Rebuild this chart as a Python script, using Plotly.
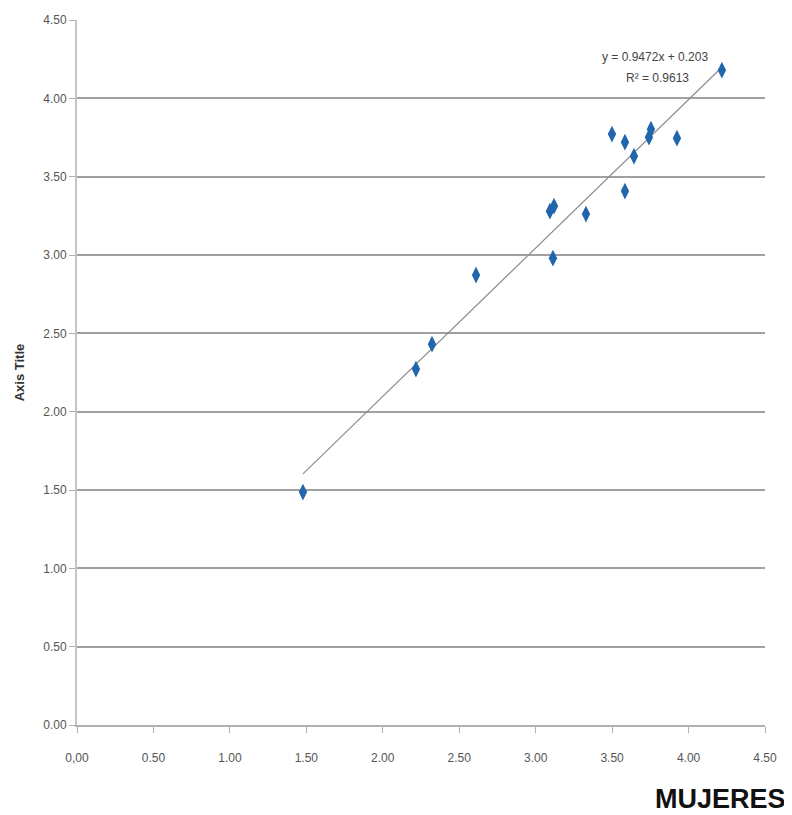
import plotly.graph_objects as go
import numpy as np

x_vals = [1.478, 2.217, 2.322, 2.610, 3.093, 3.120, 3.113, 3.329, 3.499, 3.584, 3.584, 3.643, 3.741, 3.754, 3.924, 4.218]
y_vals = [1.487, 2.272, 2.431, 2.872, 3.280, 3.312, 2.980, 3.261, 3.772, 3.720, 3.408, 3.631, 3.752, 3.803, 3.746, 4.180]
slope = 0.9472
intercept = 0.203
r2 = 0.9613
tick_vals = [0, 0.5, 1, 1.5, 2, 2.5, 3, 3.5, 4, 4.5]
tick_text = ["0,00", "0.50", "1.00", "1.50", "2.00", "2.50", "3.00", "3.50", "4.00", "4.50"]
ytick_text = ["0.00", "0.50", "1.00", "1.50", "2.00", "2.50", "3.00", "3.50", "4.00", "4.50"]

font_tick = "Liberation Sans, Arial, sans-serif"

tx = np.array([min(x_vals), max(x_vals)])
ty = slope * tx + intercept

fig = go.Figure()
fig.add_trace(go.Scatter(x=tx, y=ty, mode="lines",
                         line=dict(color="#8c8c8c", width=1.2), hoverinfo="skip"))
fig.add_trace(go.Scatter(x=x_vals, y=y_vals, mode="markers",
                         marker=dict(symbol="diamond-tall", size=12, color="#2166ac",
                                     line=dict(width=0))))

fig.add_annotation(x=3.78, y=4.263, xref="x", yref="y",
                   text=f"y = {slope}x + {intercept}",
                   showarrow=False, align="center",
                   font=dict(family=font_tick, size=12, color="#444"))
fig.add_annotation(x=3.8, y=4.129, xref="x", yref="y",
                   text=f"R² = {r2}",
                   showarrow=False, align="center",
                   font=dict(family=font_tick, size=12, color="#444"))
fig.add_annotation(x=1.0, y=0, xref="paper", yref="paper", xanchor="right", yanchor="middle",
                   yshift=-74, xshift=23,
                   text="<b>MUJERES</b>", showarrow=False,
                   font=dict(family="Liberation Sans, Arial, sans-serif", size=27, color="#111"))

fig.update_layout(
    width=784, height=807,
    margin=dict(l=69, r=27, t=12, b=90),
    plot_bgcolor="white", paper_bgcolor="white",
    showlegend=False,
    xaxis=dict(range=[0, 4.5], tickvals=tick_vals, ticktext=tick_text, automargin=False,
               showgrid=False, zeroline=False, showline=True, linecolor="#b0b0b0", linewidth=2,
               ticks="outside", ticklen=6, tickcolor="#b0b0b0", tickwidth=1,
               ticklabelstandoff=15,
               tickfont=dict(family=font_tick, size=12, color="#555")),
    yaxis=dict(range=[0, 4.5], tickvals=tick_vals, ticktext=ytick_text, automargin=False,
               showgrid=True, gridcolor="#a0a0a0", gridwidth=2, zeroline=False,
               showline=True, linecolor="#c4c4c4", linewidth=2,
               ticks="outside", ticklen=6, tickcolor="#b0b0b0", tickwidth=1,
               tickfont=dict(family=font_tick, size=12, color="#555"),
               title=dict(text="<b>Axis Title</b>", standoff=16,
                          font=dict(family="Liberation Sans, Arial, sans-serif", size=13, color="#333"))),
)

fig.write_html("out.html")
